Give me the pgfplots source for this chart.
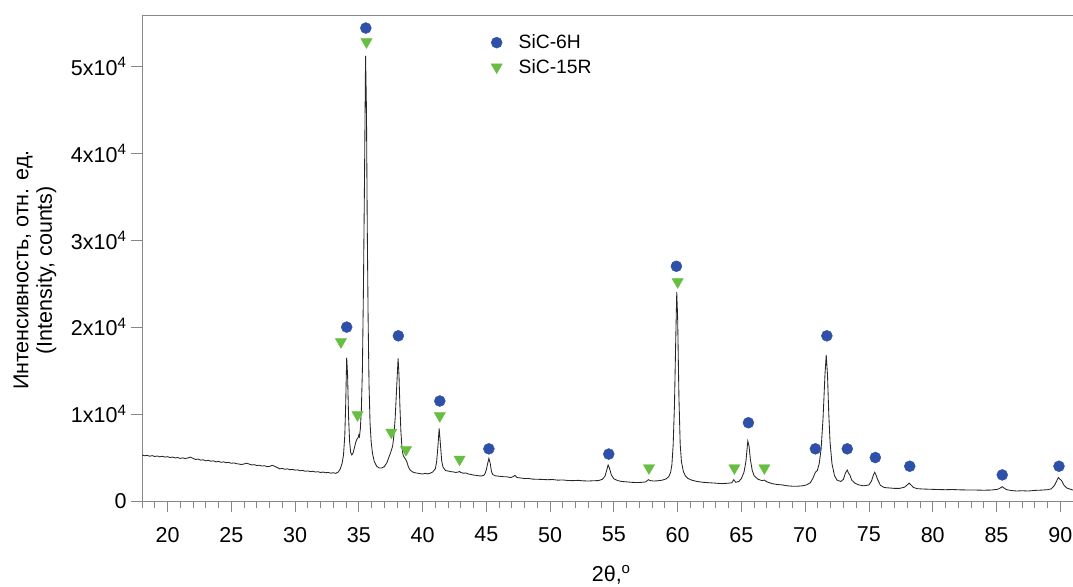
\documentclass[border=0pt]{standalone}
\usepackage{fontspec}
\setmainfont{Liberation Sans}
\usepackage{pgfplots}
\pgfplotsset{compat=1.18}

\definecolor{sixh}{RGB}{46,80,168}
\definecolor{fifteenr}{RGB}{104,190,66}
\definecolor{axgray}{RGB}{135,135,135}

\begin{document}
\begin{tikzpicture}[font=\fontsize{21.5pt}{23.5pt}\selectfont]
\begin{axis}[
    name=ax,
    scale only axis,
    width=931pt, height=486pt,
    xmin=18, xmax=91,
    ymin=0, ymax=55900,
    axis x line=bottom, axis y line=left,
    axis line style={-, draw=axgray, line width=0.9pt},
    tick align=outside,
    tick style={draw=axgray, line width=0.9pt},
    major tick length=11pt,
    minor tick length=6.5pt,
    xtick={20,25,...,90},
    minor xtick={18,...,91},
    ytick={0,10000,20000,30000,40000,50000},
    yticklabels={0, 1x10\textsuperscript{4}, 2x10\textsuperscript{4}, 3x10\textsuperscript{4}, 4x10\textsuperscript{4}, 5x10\textsuperscript{4}},
    scaled y ticks=false,
    /pgf/number format/assume math mode=true,
    xticklabel style={yshift=-11.5pt},
    yticklabel style={xshift=-1pt},
    xlabel={2θ,\textsuperscript{o}},
    xlabel style={at={(axis description cs:0.504,-0.152)}, anchor=center},
    ylabel={Интенсивность, отн. ед.\\(Intensity, counts)},
    ylabel style={at={(axis description cs:-0.115,0.475)}, anchor=center, align=center},
    legend image code/.code={
        \path[draw=none, fill=none] (-6pt,-6pt) rectangle (20pt,6pt);
        \draw[#1] plot coordinates {(0pt,0pt)};
    },
    legend style={draw=none, fill=none, at={(rel axis cs:0.3711,0.9677)}, anchor=north west,
        row sep=5pt, font=\fontsize{19.3pt}{22pt}\selectfont},
    legend cell align=left,
]
\draw[axgray, line width=0.9pt] (rel axis cs:0,1) -- (rel axis cs:1,1);

% diffraction pattern
\addplot[forget plot, black!85, line width=0.85pt] coordinates {
(18.0,5300) (18.2,5200) (18.4,5250) (18.6,5150) (18.8,5220) (19.0,5120) (19.2,5180) (19.4,5080)
(19.6,5150) (19.8,5050) (20.0,5100) (20.2,5000) (20.4,5060) (20.6,4950) (20.8,5000) (21.0,4900)
(21.2,4960) (21.4,4880) (21.6,4950) (21.8,5050) (22.0,4900) (22.2,4780) (22.4,4820) (22.6,4700)
(22.8,4740) (23.0,4620) (23.2,4680) (23.4,4580) (23.6,4620) (23.8,4500) (24.0,4560) (24.2,4450)
(24.4,4500) (24.6,4400) (24.8,4440) (25.0,4340) (25.2,4380) (25.4,4300) (25.6,4250) (25.8,4200)
(26.0,4260) (26.2,4350) (26.4,4250) (26.6,4150) (26.8,4180) (27.0,4080) (27.2,4120) (27.4,4020)
(27.6,4060) (27.8,3950) (28.0,3980) (28.2,4100) (28.4,4000) (28.6,3850) (28.8,3700) (29.0,3750)
(29.2,3650) (29.4,3700) (29.6,3600) (29.8,3640) (30.0,3550) (30.2,3580) (30.4,3480) (30.6,3520)
(30.8,3420) (31.0,3460) (31.2,3380) (31.4,3420) (31.6,3330) (31.8,3370) (32.0,3280) (32.2,3330)
(32.4,3250) (32.6,3290) (32.8,3200) (33.0,3250) (33.2,3180) (33.4,3350) (33.55,3700) (33.7,4400)
(33.8,5300) (33.9,7500) (33.97,11000) (34.05,16500) (34.12,14500) (34.2,9500) (34.28,6800)
(34.36,5600) (34.45,5300) (34.55,5500) (34.65,6100) (34.75,6700) (34.85,7100) (34.95,7300)
(35.0,7600) (35.05,7400) (35.12,8300) (35.2,10500) (35.28,15000) (35.36,24000) (35.44,36000)
(35.53,51200) (35.6,45000) (35.66,32000) (35.73,21000) (35.8,13500) (35.88,9000) (35.97,6800)
(36.07,5500) (36.2,4600) (36.4,4000) (36.6,3800) (36.8,3800) (37.0,3950) (37.2,4400) (37.35,5000)
(37.5,5600) (37.65,6300) (37.75,7500) (37.85,9500) (37.95,12500) (38.08,16400) (38.15,14500)
(38.22,11000) (38.3,8000) (38.38,6200) (38.47,5300) (38.57,5000) (38.67,4800) (38.77,4500)
(38.87,4000) (39.0,3600) (39.2,3350) (39.4,3250) (39.6,3200) (39.8,3150) (40.0,3100) (40.2,3180)
(40.4,3120) (40.6,3200) (40.8,3350) (41.0,3700) (41.1,4500) (41.2,6200) (41.3,8350) (41.4,6500)
(41.5,4600) (41.6,3900) (41.8,3500) (42.0,3450) (42.2,3380) (42.4,3350) (42.6,3280) (42.8,3330)
(42.9,3400) (43.0,3280) (43.2,3200) (43.4,3220) (43.6,3100) (43.8,3050) (44.0,2980) (44.2,2950)
(44.4,2900) (44.6,2880) (44.8,2950) (44.9,3150) (45.0,3600) (45.1,4300) (45.2,4900) (45.3,4350)
(45.4,3400) (45.5,3050) (45.7,2900) (46.0,2850) (46.3,2800) (46.6,2780) (46.9,2700) (47.1,2800)
(47.25,2950) (47.4,2700) (47.7,2650) (48.0,2580) (48.3,2600) (48.6,2520) (49.0,2500) (49.4,2480)
(49.8,2450) (50.2,2470) (50.6,2400) (51.0,2420) (51.4,2360) (51.8,2340) (52.2,2380) (52.6,2320)
(53.0,2300) (53.4,2330) (53.8,2350) (54.1,2500) (54.3,2850) (54.45,3600) (54.55,4150) (54.65,3800)
(54.8,3000) (55.0,2550) (55.3,2350) (55.6,2250) (56.0,2200) (56.4,2150) (56.8,2120) (57.2,2150)
(57.5,2200) (57.7,2450) (57.85,2350) (58.1,2300) (58.4,2320) (58.8,2400) (59.1,2550) (59.3,2800)
(59.45,3300) (59.55,4200) (59.65,6500) (59.75,11000) (59.85,18500) (59.93,24050) (60.0,21000)
(60.1,12000) (60.2,6500) (60.3,4500) (60.45,3400) (60.6,2900) (60.8,2600) (61.1,2400) (61.5,2250)
(62.0,2150) (62.5,2100) (63.0,2050) (63.5,2000) (64.0,2050) (64.25,2100) (64.4,2450) (64.55,2150)
(64.8,2250) (65.0,2600) (65.2,3300) (65.35,4500) (65.5,6900) (65.6,6300) (65.7,4800) (65.85,3500)
(66.0,2900) (66.3,2500) (66.6,2350) (66.8,2400) (67.0,2200) (67.4,2000) (67.8,1900) (68.2,1850)
(68.6,1750) (69.0,1700) (69.4,1700) (69.8,1750) (70.1,1850) (70.4,2100) (70.6,2600) (70.8,3300)
(70.95,3500) (71.1,4300) (71.25,6000) (71.4,9500) (71.55,14500) (71.65,16800) (71.75,14500)
(71.85,10000) (71.95,6800) (72.1,4300) (72.3,2900) (72.5,2400) (72.8,2250) (73.0,2500) (73.15,3200)
(73.3,3560) (73.4,3200) (73.5,3000) (73.65,2400) (73.9,2050) (74.2,1850) (74.6,1750) (75.0,1850)
(75.2,2300) (75.35,3000) (75.45,3300) (75.55,3000) (75.7,2400) (75.9,1800) (76.2,1550) (76.6,1500)
(77.0,1450) (77.4,1450) (77.8,1600) (78.0,1850) (78.15,2050) (78.3,1850) (78.5,1550) (78.8,1420)
(79.2,1380) (79.8,1350) (80.4,1320) (81.0,1300) (81.6,1320) (82.2,1280) (82.8,1270) (83.4,1260)
(84.0,1240) (84.6,1260) (85.1,1350) (85.3,1500) (85.45,1650) (85.6,1480) (85.8,1300) (86.2,1200)
(86.6,1150) (87.0,1180) (87.5,1150) (88.0,1220) (88.5,1250) (89.0,1300) (89.3,1400) (89.55,1800)
(89.75,2400) (89.85,2700) (89.95,2550) (90.1,2350) (90.3,1800) (90.5,1500) (90.8,1350) (91.0,1260)
};

% SiC-6H reflections
\addplot[only marks, mark=*, mark size=5.5pt, color=sixh] coordinates {
(34.05,20000) (35.55,54400) (38.1,19000) (41.35,11500) (45.2,6000) (54.6,5400) (59.9,27000)
(65.55,9000) (70.8,6000) (71.7,19000) (73.3,6000) (75.5,5000) (78.2,4000) (85.45,3000) (89.9,4000)
};
% SiC-15R reflections
\addplot[only marks, mark=triangle*, mark size=6.5pt, mark options={rotate=180}, color=fifteenr] coordinates {
(33.6,18300) (34.9,9900) (35.6,52800) (37.55,7900) (38.7,5900) (41.35,9800) (42.9,4800)
(57.75,3800) (60.0,25200) (64.45,3800) (66.8,3800)
};
\legend{SiC-6H, SiC-15R}
\end{axis}
\pgfresetboundingbox
\path[use as bounding box] ([xshift=-142pt,yshift=-85pt]ax.south west) rectangle ([yshift=15pt]ax.north east);
\end{tikzpicture}
\end{document}
